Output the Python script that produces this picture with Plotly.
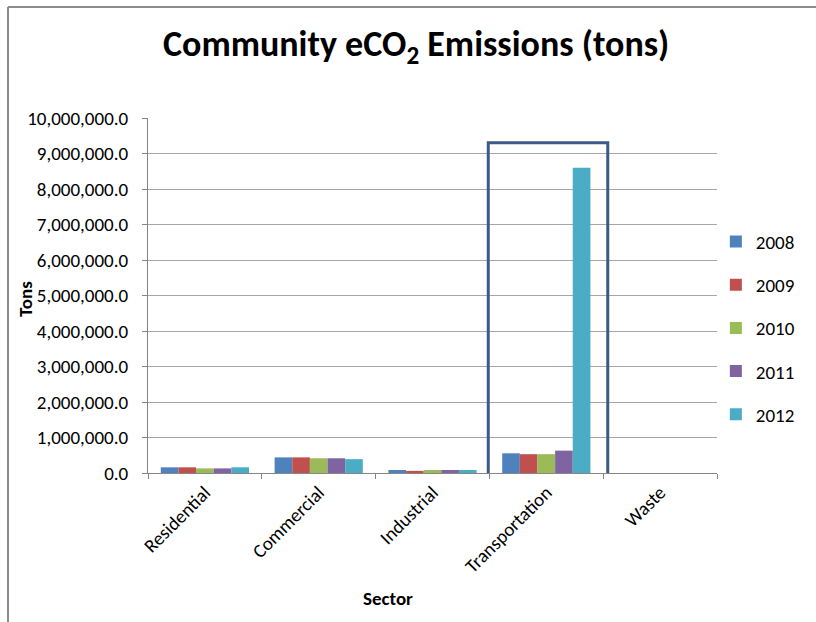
import plotly.graph_objects as go

sectors = ["Residential", "Commercial", "Industrial", "Transportation", "Waste"]
years = ["2008", "2009", "2010", "2011", "2012"]
values = {
    "2008": [160000, 440000, 85000, 555000, 0],
    "2009": [160000, 440000, 60000, 530000, 0],
    "2010": [130000, 415000, 85000, 530000, 0],
    "2011": [130000, 415000, 85000, 630000, 0],
    "2012": [160000, 390000, 85000, 8600000, 0],
}
colors = ["#4F81BD", "#C0504D", "#9BBB59", "#8064A2", "#4BACC6"]
y_ticks = [i * 1000000 for i in range(11)]

FONT = "Carlito, 'Liberation Sans Narrow', Lato, sans-serif"

fig = go.Figure()
for yr, c in zip(years, colors):
    fig.add_trace(go.Bar(x=sectors, y=values[yr], name=yr, marker_color=c,
                         marker_line_width=0, legendgroup=yr))

fig.update_layout(
    width=816, height=622,
    margin=dict(l=148, r=99, t=118, b=149, autoexpand=False),
    paper_bgcolor="white", plot_bgcolor="white",
    font=dict(family=FONT, size=19, color="#000000"),
    bargap=0.225, bargroupgap=0,
    showlegend=True,
    legend=dict(x=0.998, y=0.408, yanchor="middle", xanchor="left",
                font=dict(size=19), tracegroupgap=15.5, itemwidth=30,
                bgcolor="rgba(0,0,0,0)"),
    title=dict(text="<b>Community eCO<sub>2</sub> Emissions (tons)</b>",
               x=0.51, xanchor="center", y=0.93, yanchor="middle",
               font=dict(size=36, family=FONT)),
)
fig.update_yaxes(range=[0, 10000000], tickvals=y_ticks, tickformat=",.1f",
                 showgrid=True, gridcolor="#A6A6A6", gridwidth=1,
                 showline=True, linecolor="#868686", linewidth=1,
                 ticks="outside", ticklen=5, tickcolor="#868686",
                 ticklabelstandoff=10,
                 tickfont=dict(size=19), zeroline=False)
fig.update_xaxes(tickangle=-45, showline=True, linecolor="#868686", linewidth=1,
                 ticks="outside", ticklen=5, tickcolor="#868686",
                 tickson="boundaries", tickfont=dict(size=19))

# highlight box around Transportation
fig.add_shape(type="rect", xref="x", yref="y", x0=2.49, x1=3.54,
              y0=-310000, y1=9300000, line=dict(color="#3B5A88", width=3),
              fillcolor="rgba(0,0,0,0)", layer="above")

# outer chart border (left and top visible)
bx = (8 - 148) / 569
by = (473 - 7) / 355
fig.add_shape(type="line", xref="paper", yref="paper",
              x0=bx, x1=bx, y0=-0.5, y1=by,
              line=dict(color="#8C8C8C", width=2))
fig.add_shape(type="line", xref="paper", yref="paper",
              x0=bx, x1=1.3, y0=by, y1=by,
              line=dict(color="#8C8C8C", width=2))

fig.add_annotation(text="<b>Tons</b>", xref="paper", yref="paper",
                   x=(25 - 148) / 569, y=0.49, textangle=-90, showarrow=False,
                   font=dict(size=19), xanchor="center", yanchor="middle")
fig.add_annotation(text="<b>Sector</b>", xref="paper", yref="paper",
                   x=(388 - 148) / 569, y=-(598 - 473) / 355, showarrow=False,
                   font=dict(size=19), xanchor="center", yanchor="middle")

fig.write_html("out.html")
